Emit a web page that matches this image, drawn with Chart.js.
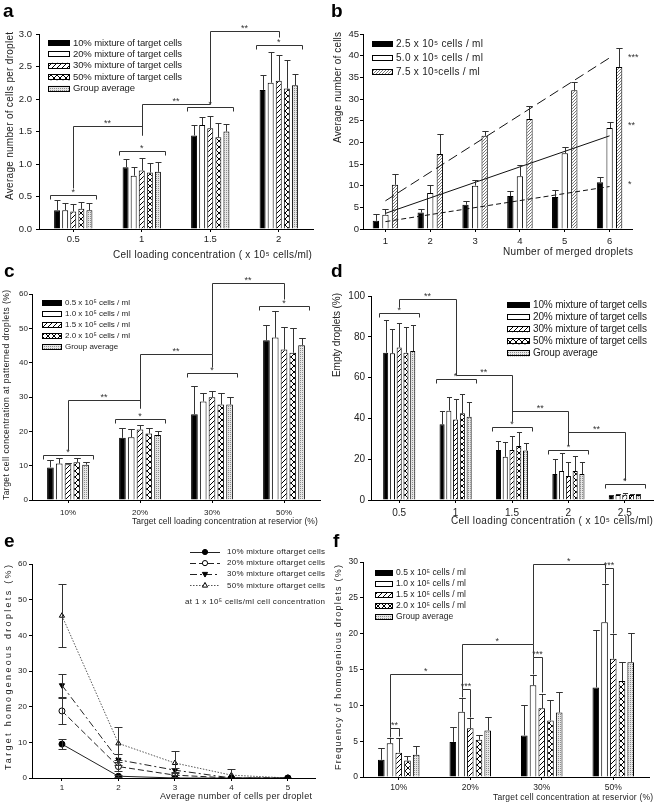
<!DOCTYPE html>
<html>
<head>
<meta charset="utf-8">
<title>Droplet cell loading</title>
<script src="https://cdn.jsdelivr.net/npm/chart.js@4.4.1/dist/chart.umd.min.js"></script>
<style>
  html, body { margin: 0; padding: 0; background: #fff; }
  #sheet { position: relative; width: 661px; height: 809px; overflow: hidden; background: #fff; }
  #sheet canvas { position: absolute; }
  .tag { position: absolute; font: bold 19px "Liberation Sans", Arial, sans-serif; line-height: 19px; color: #000; }
</style>
</head>
<body>
<div id="sheet">
  <canvas id="chartA" width="330" height="270" style="left:0;top:0"></canvas>
  <canvas id="chartB" width="331" height="270" style="left:330px;top:0"></canvas>
  <canvas id="chartC" width="330" height="270" style="left:0;top:270px"></canvas>
  <canvas id="chartD" width="331" height="270" style="left:330px;top:270px"></canvas>
  <canvas id="chartE" width="330" height="269" style="left:0;top:540px"></canvas>
  <canvas id="chartF" width="331" height="269" style="left:330px;top:540px"></canvas>
  <div class="tag" style="left:3px;top:1px">a</div>
  <div class="tag" style="left:331px;top:1px">b</div>
  <div class="tag" style="left:4px;top:261px">c</div>
  <div class="tag" style="left:331px;top:261px">d</div>
  <div class="tag" style="left:4px;top:531px">e</div>
  <div class="tag" style="left:333px;top:531px">f</div>
</div>
<script>
const FONT = '"Liberation Sans", Arial, Helvetica, sans-serif';
Chart.defaults.font.family = FONT;
Chart.defaults.color = '#222';

// ---- a: cells per droplet vs loading concentration
const aCats = ['0.5', '1', '1.5', '2'];
const mixNames = ['10% mixture of target cells', '20% mixture of target cells', '30% mixture of target cells',
  '50% mixture of target cells', 'Group average'];
const a10 = [0.29, 0.95, 1.44, 2.14];
const a20 = [0.29, 0.82, 1.60, 2.25];
const a30 = [0.27, 0.90, 1.55, 2.28];
const a50 = [0.31, 0.87, 1.41, 2.16];
const aAvg = [0.29, 0.88, 1.50, 2.21];
const a10Err = [0.15, 0.13, 0.16, 0.23];
const a20Err = [0.11, 0.14, 0.13, 0.48];
const a30Err = [0.11, 0.20, 0.19, 0.40];
const a50Err = [0.10, 0.15, 0.22, 0.44];
const aAvgErr = [0.11, 0.15, 0.11, 0.18];
const aGroupSig = [0.53, 1.20, 1.87, 2.83];
// [from group, to group, bar level, left foot, right foot]
const aLinks = [[0, 1, 1.585, 0.63, 1.45], [1, 2, 1.93, 1.45, 1.93], [2, 3, 3.04, 1.93, 2.95]];

// ---- b: merged droplets
const bCats = ['1', '2', '3', '4', '5', '6'];
const bNames = ['2.5 x 10⁵ cells / ml', '5.0 x 10⁵ cells / ml', '7.5 x 10⁵cells / ml'];
const b25 = [1.9, 3.8, 5.6, 7.6, 7.4, 10.8];
const b50 = [3.3, 8.3, 10.0, 12.2, 17.5, 23.3];
const b75 = [10.2, 17.3, 21.5, 25.4, 32.0, 37.4];
const b25Err = [1.5, 0.8, 0.9, 1.2, 1.6, 1.2];
const b50Err = [1.3, 1.8, 1.4, 2.6, 1.4, 1.3];
const b75Err = [2.5, 4.6, 1.1, 2.9, 2.0, 4.4];
const bFit25 = [1.7, 9.8];   // trend line at 1 and 6 merged droplets
const bFit50 = [3.6, 21.5];
const bFit75 = [6.5, 39.5];
const bSig = ['*', '**', '***'];
const bSigAt = [10.8, 24.3, 40.0];

// ---- c: target cell concentration at patterned droplets
const pctCats = ['10%', '20%', '30%', '50%'];
const concNames = ['0.5 x 10⁵ cells / ml', '1.0 x 10⁵ cells / ml', '1.5 x 10⁵ cells / ml',
  '2.0 x 10⁵ cells / ml', 'Group average'];
const c05 = [9.5, 18.1, 25.0, 46.5];
const c10 = [10.6, 18.3, 28.7, 47.3];
const c15 = [10.4, 20.5, 29.9, 43.8];
const c20 = [11.0, 19.4, 27.8, 42.9];
const cAvg = [10.3, 18.9, 27.8, 45.1];
const c05Err = [2.1, 2.9, 8.1, 4.6];
const c10Err = [1.5, 2.4, 2.4, 7.8];
const c15Err = [0.3, 1.3, 1.9, 6.7];
const c20Err = [1.3, 1.5, 3.3, 7.1];
const cAvgErr = [0.8, 1.1, 2.2, 2.1];
const cGroupSig = [13.1, 23.6, 36.9, 56.6];
const cLinks = [[0, 1, 29.1, 14.6, 26.7], [1, 2, 42.5, 26.7, 38.8], [2, 3, 63.3, 42.5, 58.4]];

// ---- d: empty droplets
const dCats = ['0.5', '1', '1.5', '2', '2.5'];
const d10 = [72.2, 37.1, 24.5, 12.7, 2.0];
const d20 = [71.9, 43.8, 21.2, 14.2, 2.4];
const d30 = [74.8, 39.5, 24.5, 11.8, 2.6];
const d50 = [72.2, 42.5, 26.5, 14.2, 2.5];
const dAvg = [73.0, 40.8, 24.3, 12.7, 2.4];
const d10Err = [16.0, 6.7, 4.4, 7.2, 0.6];
const d20Err = [11.8, 6.5, 7.4, 9.0, 0.6];
const d30Err = [11.8, 9.8, 6.9, 7.0, 0.8];
const d50Err = [12.8, 9.3, 7.0, 7.4, 0.6];
const dAvgErr = [12.8, 7.4, 3.5, 6.1, 0.4];
const dGroupSig = [91.5, 59.2, 36.0, 24.5, 7.8];
const dLinks = [[0, 1, 98.4, 94.4, 61.3], [1, 2, 61.3, 61.3, 38.9], [2, 3, 43.8, 38.9, 27.0], [3, 4, 33.2, 27.0, 9.8]];

// ---- e: target homogeneous droplets
const eX = [1, 2, 3, 4, 5];
const eNames = ['10% mixture oftarget cells', '20% mixture oftarget cells', '30% mixture oftarget cells',
  '50% mixture oftarget cells'];
const e10 = [9.5, 0.5, 0, 0, 0];
const e20 = [18.8, 3.2, 0.8, 0, 0];
const e30 = [26.0, 5.1, 2.2, 0, 0];
const e50 = [45.5, 9.7, 4.2, 0.8, 0];
const e10Err = [1.5, 0.3, 0, 0, 0];
const e20Err = [3.7, 1.2, 0.5, 0, 0];
const e30Err = [3.2, 1.5, 0.6, 0, 0];
const e50Err = [8.8, 4.7, 3.3, 1.8, 0];

// ---- f: frequency of homogenious droplets
const f05 = [2.4, 4.9, 5.8, 12.5];
const f10 = [4.7, 9.1, 12.8, 21.6];
const f15 = [3.4, 6.8, 9.6, 16.5];
const f20 = [2.3, 5.2, 7.9, 13.4];
const fAvg = [3.1, 6.5, 9.0, 16.0];
const f05Err = [1.7, 2.1, 4.2, 8.0];
const f10Err = [0.7, 1.9, 1.4, 5.3];
const f15Err = [2.1, 1.4, 2.0, 3.4];
const f20Err = [0.6, 0.7, 2.9, 2.7];
const fAvgErr = [1.2, 1.9, 2.9, 4.1];
// [group, bar level, left foot, right foot, label] between 1.0 and 1.5 x 10^5 bars
const fPairs = [[0, 6.8, 5.6, 5.7, '**'], [1, 12.3, 11.2, 8.4, '***'], [2, 16.8, 14.4, 11.8, '***'], [3, 29.2, 27.1, 20.1, '***']];
const fLinks = [[0, 1, 14.4, 6.8, 12.3], [1, 2, 18.5, 14.4, 16.8], [2, 3, 29.7, 18.5, 29.2]];

// ---- fills
function pattern(size, paint) {
  const c = document.createElement('canvas');
  c.width = c.height = size;
  const g = c.getContext('2d');
  paint(g, size);
  return g.createPattern(c, 'repeat');
}
function diag(g, s, color, w) {
  g.fillStyle = '#fff';
  g.fillRect(0, 0, s, s);
  g.strokeStyle = color;
  g.lineWidth = w;
  g.beginPath();
  g.moveTo(-1, s + 1); g.lineTo(s + 1, -1);
  g.moveTo(-1, 1); g.lineTo(1, -1);
  g.moveTo(s - 1, s + 1); g.lineTo(s + 1, s - 1);
  g.stroke();
}
const hatch = pattern(5, (g, s) => diag(g, s, '#000', 1));
const fineHatch = pattern(3, (g, s) => diag(g, s, '#6a6a6a', 0.9));
const cross = pattern(6, (g, s) => {
  g.fillStyle = '#fff';
  g.fillRect(0, 0, s, s);
  g.strokeStyle = '#000';
  g.lineWidth = 1;
  g.beginPath();
  g.moveTo(0, 0); g.lineTo(s, s);
  g.moveTo(s, 0); g.lineTo(0, s);
  g.stroke();
});
const dots = pattern(2, g => {
  g.fillStyle = '#e6e6e6';
  g.fillRect(0, 0, 2, 2);
  g.fillStyle = '#8c8c8c';
  g.fillRect(0, 0, 1, 1);
});
const fiveFills = ['#000', '#fff', hatch, cross, dots];

// ---- drawing helpers
function spacingFor(ctx, text, len, size) {
  ctx.font = size + 'px ' + FONT;
  ctx.letterSpacing = '0px';
  const n = [...text].length;
  const w = ctx.measureText(text).width;
  return Math.max(-1, (len - w) / (n - 1));
}
function drawSpaced(ctx, text, x, y, sp, size) {
  ctx.font = size + 'px ' + FONT;
  ctx.letterSpacing = sp.toFixed(2) + 'px';
  ctx.fillText(text, x, y);
  ctx.letterSpacing = '0px';
}
function spaced(ctx, text, x, y, len, size) {
  drawSpaced(ctx, text, x, y, spacingFor(ctx, text, len, size), size);
}

function marker(ctx, style, x, y, r, fill) {
  ctx.beginPath();
  if (style === 'circle') {
    ctx.arc(x, y, r, 0, Math.PI * 2);
  } else {
    const dir = style === 'down' ? -1 : 1;
    ctx.moveTo(x, y - dir * r * 1.1);
    ctx.lineTo(x + r, y + dir * r * 0.7);
    ctx.lineTo(x - r, y + dir * r * 0.7);
    ctx.closePath();
  }
  ctx.fillStyle = fill;
  ctx.fill();
  ctx.strokeStyle = '#000';
  ctx.lineWidth = 1;
  ctx.stroke();
}

const panelMarks = {
  id: 'panelMarks',
  afterDatasetsDraw(chart, args, o) {
    const ctx = chart.ctx;
    const py = v => chart.scales.y.getPixelForValue(v);
    const snap = v => Math.round(v) + 0.5;
    const sets = chart.data.datasets;
    const barIdx = sets.map((d, i) => i).filter(i => chart.getDatasetMeta(i).type === 'bar');
    const star = (txt, x, y) => {
      ctx.font = '9px ' + FONT;
      ctx.fillStyle = '#333';
      ctx.textAlign = 'center';
      ctx.textBaseline = 'bottom';
      ctx.fillText(txt, x, y + 3);
    };
    const bracket = (x1, y1, x2, y2, yl) => {
      ctx.beginPath();
      ctx.moveTo(snap(x1), snap(y1));
      ctx.lineTo(snap(x1), snap(yl));
      ctx.lineTo(snap(x2), snap(yl));
      ctx.lineTo(snap(x2), snap(y2));
      ctx.stroke();
    };
    ctx.save();
    ctx.lineWidth = 1;
    ctx.strokeStyle = '#333';

    // error bars
    sets.forEach((ds, i) => {
      if (!ds.errs) return;
      chart.getDatasetMeta(i).data.forEach((el, j) => {
        const e = ds.errs[j];
        if (!e) return;
        const raw = ds.data[j];
        const v = typeof raw === 'object' ? raw.y : raw;
        const half = o.cap ? o.cap / 2 : el.width / 2;
        const x = snap(el.x);
        const top = snap(py(v + e));
        const low = ds.errBoth ? snap(py(Math.max(0, v - e))) : el.y;
        ctx.beginPath();
        ctx.moveTo(x, low); ctx.lineTo(x, top);
        ctx.moveTo(x - half, top); ctx.lineTo(x + half, top);
        if (ds.errBoth && v - e > 0) { ctx.moveTo(x - half, low); ctx.lineTo(x + half, low); }
        ctx.stroke();
      });
    });

    // significance within each group
    (o.groups || []).forEach((lvl, i) => {
      const first = chart.getDatasetMeta(barIdx[0]).data[i];
      const last = chart.getDatasetMeta(barIdx[barIdx.length - 1]).data[i];
      const xl = first.x - first.width / 2 - 4;
      const xr = last.x + last.width / 2 + 4;
      const yy = py(lvl);
      bracket(xl, yy + 4, xr, yy + 4, yy);
      star('*', (xl + xr) / 2, yy - 1);
    });

    // pairs inside a group (panel f)
    (o.pairs || []).forEach(([g, lvl, fl, fr, txt]) => {
      const x1 = chart.getDatasetMeta(o.pairBars[0]).data[g].x;
      const x2 = chart.getDatasetMeta(o.pairBars[1]).data[g].x;
      bracket(x1, py(fl), x2, py(fr), py(lvl));
      star(txt, (x1 + x2) / 2, py(lvl) - 1);
    });

    // links between groups
    (o.links || []).forEach(([a, b, lvl, fl, fr]) => {
      const m = chart.getDatasetMeta(o.linkBar);
      const x1 = m.data[a].x;
      const x2 = m.data[b].x;
      bracket(x1, py(fl), x2, py(fr), py(lvl));
      star(o.linkLabel, (x1 + x2) / 2, py(lvl) - 1);
    });

    // side labels (panel b)
    if (o.side) {
      o.side.labels.forEach((txt, k) => {
        ctx.font = '9px ' + FONT;
        ctx.fillStyle = '#333';
        ctx.textAlign = 'left';
        ctx.textBaseline = 'middle';
        ctx.fillText(txt, chart.chartArea.right - 4, py(o.side.at[k]) + 2);
      });
    }

    // legend
    if (o.legend) {
      const L = o.legend;
      const items = chart.config.type === 'bar' ? barIdx.map(i => sets[i]) : sets;
      const sp = spacingFor(ctx, items[0].label, L.len, L.size);
      items.forEach((ds, k) => {
        const yy = L.y + k * L.dy;
        if (chart.config.type === 'bar') {
          ctx.fillStyle = ds.backgroundColor;
          ctx.fillRect(L.x, yy - L.h / 2, L.w, L.h);
          ctx.strokeStyle = '#000';
          ctx.strokeRect(L.x + 0.5, Math.round(yy - L.h / 2) + 0.5, L.w - 1, L.h - 1);
        } else {
          ctx.strokeStyle = ds.borderColor;
          ctx.setLineDash(ds.borderDash || []);
          ctx.beginPath();
          ctx.moveTo(L.x, snap(yy)); ctx.lineTo(L.x + L.w, snap(yy));
          ctx.stroke();
          ctx.setLineDash([]);
          marker(ctx, ds.mark, L.x + L.w / 2, yy, 2.6, ds.pointBackgroundColor);
        }
        ctx.fillStyle = '#222';
        ctx.textAlign = 'left';
        ctx.textBaseline = 'middle';
        drawSpaced(ctx, ds.label, L.x + L.w + L.gap, yy, sp, L.size);
      });
      if (L.note) {
        ctx.fillStyle = '#222';
        spaced(ctx, L.note.text, L.note.x, L.note.y, L.note.len, L.size);
      }
    }

    // axis titles
    ctx.fillStyle = '#222';
    ctx.textAlign = 'left';
    ctx.textBaseline = 'middle';
    if (o.xTitle) {
      const t = o.xTitle;
      spaced(ctx, t.text, t.from, t.at, t.to - t.from, t.size);
    }
    if (o.yTitle) {
      const t = o.yTitle;
      ctx.save();
      ctx.translate(t.at, t.from);
      ctx.rotate(-Math.PI / 2);
      spaced(ctx, t.text, 0, 0, t.from - t.to, t.size);
      ctx.restore();
    }
    ctx.restore();
  }
};

function axisX(H, box, tickSize, tickPad) {
  return {
    grid: { offset: false, drawOnChartArea: false, drawTicks: true, tickLength: 3, color: '#000' },
    border: { color: '#000', width: 1 },
    ticks: { font: { size: tickSize }, color: '#222', padding: tickPad, maxRotation: 0, autoSkip: false },
    afterFit: s => { s.height = H - box.b; }
  };
}
function axisY(box, max, step, tickSize, tickPad, decimals) {
  return {
    min: 0,
    max,
    grid: { drawOnChartArea: false, drawTicks: true, tickLength: 3, color: '#000' },
    border: { color: '#000', width: 1 },
    ticks: {
      stepSize: step,
      font: { size: tickSize },
      color: '#222',
      padding: tickPad,
      callback: v => v.toFixed(decimals)
    },
    afterFit: s => { s.width = box.l; }
  };
}

function barSet(label, data, errs, fill) {
  return { label, data, errs, backgroundColor: fill, borderColor: '#000', borderWidth: 1, order: 1 };
}

function barChart(id, box, cats, datasets, yAxis, tickSize, xPad, marks) {
  const cv = document.getElementById(id);
  return new Chart(cv, {
    type: 'bar',
    data: { labels: cats, datasets },
    options: {
      responsive: false,
      animation: false,
      layout: { padding: { top: box.t, right: cv.width - box.r, left: 0, bottom: 0 } },
      datasets: { bar: { categoryPercentage: box.cat, barPercentage: box.bar } },
      scales: { x: axisX(cv.height, box, tickSize, xPad), y: yAxis },
      plugins: { legend: { display: false }, tooltip: { enabled: false }, panelMarks: marks }
    },
    plugins: [panelMarks]
  });
}

// ---- a
const boxA = { l: 39, t: 34, r: 313, b: 229, cat: 0.59, bar: 0.74 };
barChart('chartA', boxA, aCats, [
  barSet(mixNames[0], a10, a10Err, fiveFills[0]),
  barSet(mixNames[1], a20, a20Err, fiveFills[1]),
  barSet(mixNames[2], a30, a30Err, fiveFills[2]),
  barSet(mixNames[3], a50, a50Err, fiveFills[3]),
  barSet(mixNames[4], aAvg, aAvgErr, fiveFills[4])
], axisY(boxA, 3, 0.5, 9.5, 4, 1), 9.5, 1.5, {
  groups: aGroupSig,
  links: aLinks,
  linkBar: 2,
  linkLabel: '**',
  legend: { x: 48, y: 43, dy: 11.4, w: 22, h: 6, gap: 3, size: 9.5, len: 109 },
  xTitle: { text: 'Cell loading concentration ( x 10⁵ cells/ml)', from: 113, to: 312, at: 255, size: 10 },
  yTitle: { text: 'Average number of cells per droplet', from: 200, to: 32, at: 10, size: 10 }
});

// ---- b
const boxB = { l: 33, t: 34, r: 302, b: 229, cat: 0.64, bar: 0.66 };
const fitLine = (ends, dash) => ({
  type: 'line',
  data: bCats.map((c, i) => (i === 0 ? ends[0] : i === bCats.length - 1 ? ends[1] : null)),
  spanGaps: true,
  borderColor: '#111',
  borderWidth: 1,
  borderDash: dash,
  pointRadius: 0,
  order: 0
});
barChart('chartB', boxB, bCats, [
  barSet(bNames[0], b25, b25Err, '#000'),
  barSet(bNames[1], b50, b50Err, '#fff'),
  barSet(bNames[2], b75, b75Err, fineHatch),
  fitLine(bFit25, [5, 3]),
  fitLine(bFit50, []),
  fitLine(bFit75, [10, 5])
], axisY(boxB, 45, 5, 9.5, 1, 0), 9.5, 4, {
  side: { labels: bSig, at: bSigAt },
  legend: { x: 42, y: 44, dy: 14, w: 21, h: 6, gap: 3, size: 10, len: 87 },
  xTitle: { text: 'Number of merged droplets', from: 173, to: 303, at: 252, size: 10 },
  yTitle: { text: 'Average number of cells', from: 143, to: 32, at: 8, size: 10 }
});

// ---- c
const boxC = { l: 32, t: 24, r: 320, b: 230, cat: 0.61, bar: 0.76 };
barChart('chartC', boxC, pctCats, [
  barSet(concNames[0], c05, c05Err, fiveFills[0]),
  barSet(concNames[1], c10, c10Err, fiveFills[1]),
  barSet(concNames[2], c15, c15Err, fiveFills[2]),
  barSet(concNames[3], c20, c20Err, fiveFills[3]),
  barSet(concNames[4], cAvg, cAvgErr, fiveFills[4])
], axisY(boxC, 60, 10, 8, 1, 0), 8, 5, {
  groups: cGroupSig,
  links: cLinks,
  linkBar: 2,
  linkLabel: '**',
  legend: { x: 42, y: 33, dy: 11, w: 20, h: 6, gap: 3, size: 8, len: 65 },
  xTitle: { text: 'Target cell loading concentration at reservior (%)', from: 132, to: 318, at: 252, size: 8.5 },
  yTitle: { text: 'Target cell concentration at patterned droplets (%)', from: 230, to: 20, at: 7, size: 8.5 }
});

// ---- d
const boxD = { l: 41, t: 26, r: 323, b: 230, cat: 0.6, bar: 0.75 };
barChart('chartD', boxD, dCats, [
  barSet(mixNames[0], d10, d10Err, fiveFills[0]),
  barSet(mixNames[1], d20, d20Err, fiveFills[1]),
  barSet(mixNames[2], d30, d30Err, fiveFills[2]),
  barSet(mixNames[3], d50, d50Err, fiveFills[3]),
  barSet(mixNames[4], dAvg, dAvgErr, fiveFills[4])
], axisY(boxD, 100, 20, 10, 3, 0), 10, 4, {
  groups: dGroupSig,
  links: dLinks,
  linkBar: 2,
  linkLabel: '**',
  legend: { x: 177, y: 35, dy: 12.1, w: 23, h: 6, gap: 3, size: 10, len: 114 },
  xTitle: { text: 'Cell loading concentration ( x 10⁵ cells/ml)', from: 121, to: 323, at: 251, size: 10 },
  yTitle: { text: 'Empty droplets (%)', from: 107, to: 23, at: 7, size: 10 }
});

// ---- e
const boxE = { l: 32, t: 24, r: 315, b: 238 };
const eLine = (label, ys, errs, dash, mark, fill, color) => ({
  label,
  data: eX.map((x, i) => ({ x, y: ys[i] })),
  errs,
  errBoth: true,
  mark,
  borderColor: color,
  borderWidth: 1,
  borderDash: dash,
  pointStyle: mark === 'circle' ? 'circle' : 'triangle',
  rotation: mark === 'down' ? 180 : 0,
  pointRadius: 3,
  pointBackgroundColor: fill,
  pointBorderColor: '#000',
  pointBorderWidth: 1
});
const cvE = document.getElementById('chartE');
new Chart(cvE, {
  type: 'line',
  data: {
    datasets: [
      eLine(eNames[0], e10, e10Err, [], 'circle', '#000', '#222'),
      eLine(eNames[1], e20, e20Err, [6, 3], 'circle', '#fff', '#222'),
      eLine(eNames[2], e30, e30Err, [7, 3, 2, 3], 'down', '#000', '#222'),
      eLine(eNames[3], e50, e50Err, [1.5, 1.5], 'up', '#fff', '#555')
    ]
  },
  options: {
    responsive: false,
    animation: false,
    layout: { padding: { top: boxE.t, right: cvE.width - boxE.r, left: 0, bottom: 0 } },
    scales: {
      x: Object.assign(axisX(cvE.height, boxE, 8, 1.5), {
        type: 'linear',
        min: 0.47,
        max: 5.48,
        afterBuildTicks: s => { s.ticks = eX.map(v => ({ value: v })); }
      }),
      y: axisY(boxE, 60, 10, 8, 2, 0)
    },
    plugins: {
      legend: { display: false },
      tooltip: { enabled: false },
      panelMarks: {
        cap: 8,
        legend: {
          x: 190, y: 12, dy: 11.1, w: 30, h: 0, gap: 7, size: 8, len: 98,
          note: { text: 'at 1 x 10⁵ cells/ml cell concentration', x: 185, y: 62, len: 140 }
        },
        xTitle: { text: 'Average number of cells per droplet', from: 160, to: 312, at: 257, size: 9 },
        yTitle: { text: 'Target homogeneous droplets (%)', from: 230, to: 25, at: 9, size: 9 }
      }
    }
  },
  plugins: [panelMarks]
});

// ---- f
const boxF = { l: 33, t: 22, r: 319, b: 237, cat: 0.61, bar: 0.76 };
barChart('chartF', boxF, pctCats, [
  barSet(concNames[0], f05, f05Err, fiveFills[0]),
  barSet(concNames[1], f10, f10Err, fiveFills[1]),
  barSet(concNames[2], f15, f15Err, fiveFills[2]),
  barSet(concNames[3], f20, f20Err, fiveFills[3]),
  barSet(concNames[4], fAvg, fAvgErr, fiveFills[4])
], axisY(boxF, 30, 5, 8.5, 2, 0), 8.5, 3, {
  pairs: fPairs,
  pairBars: [1, 2],
  links: fLinks,
  linkBar: 1,
  linkLabel: '*',
  legend: { x: 45, y: 33, dy: 11, w: 18, h: 6, gap: 3, size: 8.5, len: 70 },
  xTitle: { text: 'Target cell concentration at reservior (%)', from: 163, to: 323, at: 258, size: 8.5 },
  yTitle: { text: 'Frequency of homogenious droplets (%)', from: 230, to: 25, at: 9, size: 9 }
});
</script>
</body>
</html>
